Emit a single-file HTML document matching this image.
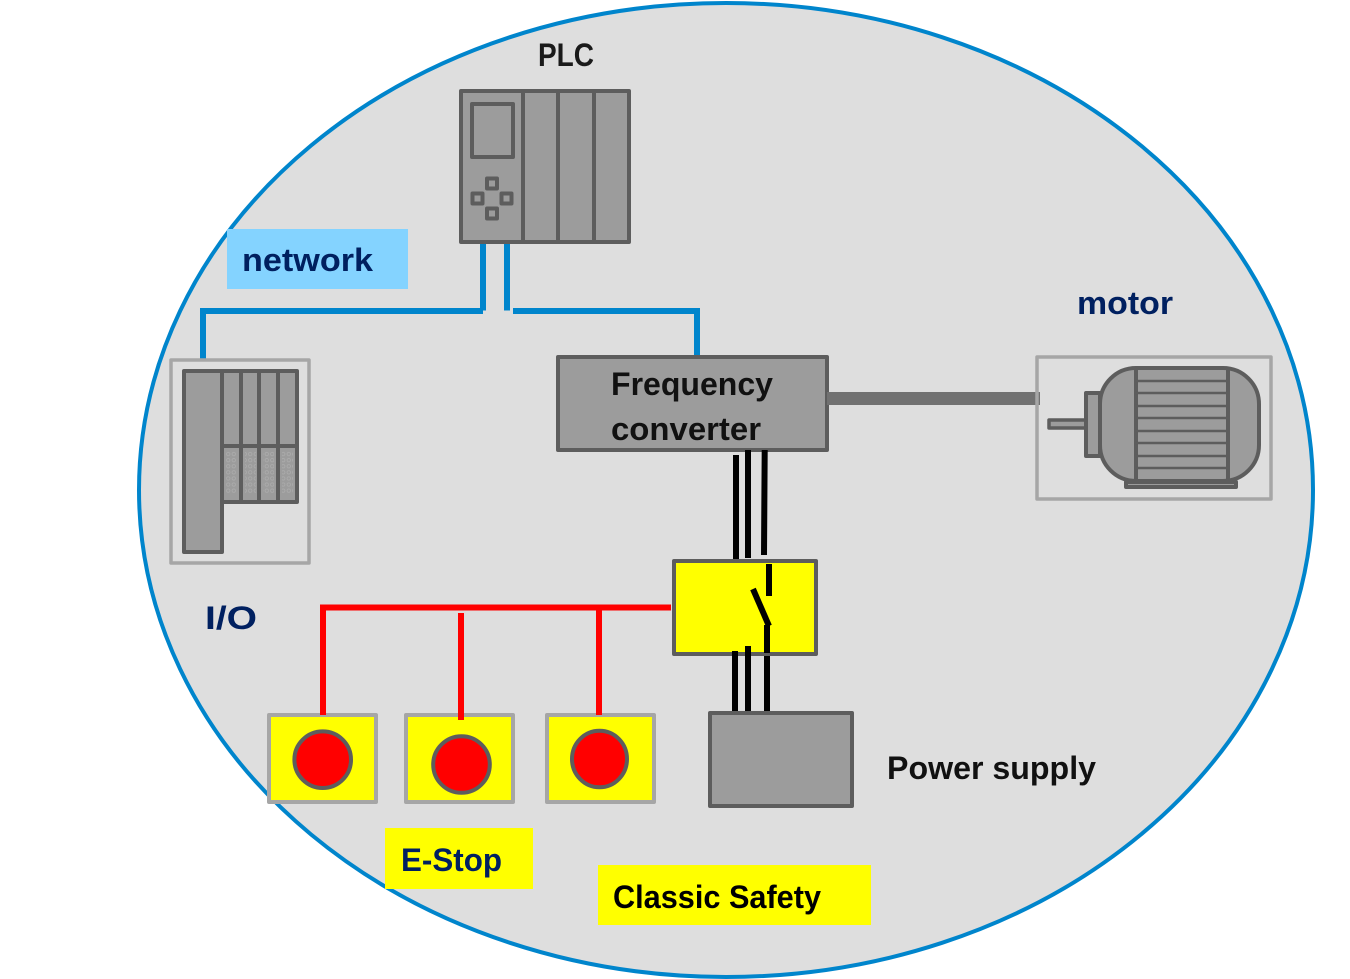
<!DOCTYPE html>
<html><head><meta charset="utf-8"><style>
html,body{margin:0;padding:0;background:#fff}
svg{display:block}
text{font-family:"Liberation Sans",sans-serif;font-weight:bold;font-size:32px}
</style></head><body>
<svg width="1350" height="979" viewBox="0 0 1350 979" xmlns="http://www.w3.org/2000/svg">
<defs>
<pattern id="dots" x="0" y="451" width="5.500" height="6.100" patternUnits="userSpaceOnUse">
<circle cx="2.750" cy="3.050" r="1.700" fill="none" stroke="#acacac" stroke-width="0.800"/>
</pattern>
</defs>
<ellipse cx="726" cy="490" rx="587" ry="487" fill="#dedede" stroke="#0085cc" stroke-width="4"/>

<!-- network label -->
<rect x="227" y="229" width="181" height="60" fill="#84d3ff"/>
<text x="242" y="271" fill="#002060" textLength="131" lengthAdjust="spacingAndGlyphs">network</text>

<!-- blue lines -->
<g stroke="#0085cc" stroke-width="6" fill="none">
<path d="M483 243V310.500"/>
<path d="M483 311H203V359"/>
<path d="M507 243V310.500"/>
<path d="M513 311H697V356"/>
</g>

<!-- PLC -->
<text x="538" y="66" fill="#1a1a1a" textLength="56" lengthAdjust="spacingAndGlyphs">PLC</text>
<g fill="#9c9c9c" stroke="#5d5d5d" stroke-width="4" stroke-linejoin="round">
<rect x="461" y="91" width="168" height="151"/>
<path d="M523 91V242M558 91V242M594 91V242" fill="none"/>
<rect x="472" y="104" width="41" height="53"/>
<rect x="487" y="178.500" width="10" height="10"/>
<rect x="472.500" y="193.500" width="10" height="10"/>
<rect x="501.500" y="193.500" width="10" height="10"/>
<rect x="487" y="208.500" width="10" height="10"/>
</g>

<!-- I/O -->
<rect x="171" y="360" width="138" height="203" fill="none" stroke="#a6a6a6" stroke-width="3.500" stroke-linejoin="round"/>
<g fill="#9c9c9c" stroke="#5d5d5d" stroke-width="4" stroke-linejoin="round">
<path d="M184 371H297V502H222V552H184Z"/>
</g>
<g fill="url(#dots)">
<rect x="226" y="451" width="11" height="43"/>
<rect x="245" y="451" width="11" height="43"/>
<rect x="263" y="451" width="11" height="43"/>
<rect x="282" y="451" width="11" height="43"/>
</g>
<path d="M222 371V502M241 371V502M259 371V502M278 371V502M222 446H297" fill="none" stroke="#5d5d5d" stroke-width="4"/>
<text x="205" y="629" fill="#002060" textLength="52" lengthAdjust="spacingAndGlyphs">I/O</text>

<!-- frequency converter -->
<rect x="558" y="357" width="269" height="93" fill="#9c9c9c" stroke="#5d5d5d" stroke-width="4" stroke-linejoin="round"/>
<text x="611" y="395" fill="#111" textLength="162" lengthAdjust="spacingAndGlyphs">Frequency</text>
<text x="611" y="440" fill="#111" textLength="150" lengthAdjust="spacingAndGlyphs">converter</text>

<!-- shaft -->
<rect x="827" y="392" width="213" height="13" fill="#717171"/>

<!-- motor -->
<text x="1077" y="314" fill="#002060" textLength="96" lengthAdjust="spacingAndGlyphs">motor</text>
<rect x="1037" y="357" width="234" height="142" fill="none" stroke="#a6a6a6" stroke-width="3.500" stroke-linejoin="round"/>
<g fill="#9c9c9c" stroke="#5d5d5d" stroke-width="4" stroke-linejoin="round">
<rect x="1049" y="420" width="38" height="8" stroke-width="3.500"/>
<rect x="1086" y="393" width="14" height="63"/>
<rect x="1126" y="482" width="110" height="5"/>
<rect x="1100" y="368" width="159" height="113" rx="36" ry="36"/>
<path d="M1136 368V481M1228 368V481" fill="none"/>
<path d="M1136 381H1227M1136 393H1227M1136 406H1226M1136 418H1227M1136 431H1226M1136 443H1227M1136 456H1226M1136 468H1226" fill="none" stroke-width="2.500"/>
</g>

<!-- switch box -->
<rect x="674" y="561" width="142" height="93" fill="#ffff00" stroke="#5d5d5d" stroke-width="4" stroke-linejoin="round"/>
<g stroke="#000" stroke-width="6" fill="none">
<path d="M736 455V559M748 450V558M764.700 450L764 555"/>
<path d="M769 564V596"/>
<path d="M753 589L769 626"/>
<path d="M767 625V653"/>
<path d="M735 651V711M748 646V711M767 656V711"/>
</g>

<!-- power supply -->
<rect x="710" y="713" width="142" height="93" fill="#9c9c9c" stroke="#5d5d5d" stroke-width="4" stroke-linejoin="round"/>
<text x="887" y="779" fill="#111" textLength="209" lengthAdjust="spacingAndGlyphs">Power supply</text>

<!-- e-stops -->
<g fill="#ffff00" stroke="#a6a6a6" stroke-width="4" stroke-linejoin="round">
<rect x="269" y="715" width="107" height="87"/>
<rect x="406" y="715" width="107" height="87"/>
<rect x="547" y="715" width="107" height="87"/>
</g>
<g fill="#ff0000" stroke="#5d5d5d" stroke-width="4">
<circle cx="322.700" cy="759.700" r="28.300"/>
<circle cx="461.500" cy="764.500" r="28.300"/>
<ellipse cx="599.500" cy="759" rx="27.500" ry="28.300"/>
</g>

<!-- red lines -->
<g stroke="#ff0000" stroke-width="6" fill="none">
<path d="M671 607.500H323V715"/>
<path d="M461 613V720"/>
<path d="M599 608V715"/>
</g>

<!-- labels -->
<rect x="385" y="828" width="148" height="61" fill="#ffff00"/>
<text x="401" y="871" fill="#002060" textLength="101" lengthAdjust="spacingAndGlyphs">E-Stop</text>
<rect x="598" y="865" width="273" height="60" fill="#ffff00"/>
<text x="613" y="908" fill="#000" textLength="208" lengthAdjust="spacingAndGlyphs">Classic Safety</text>
</svg>
</body></html>
